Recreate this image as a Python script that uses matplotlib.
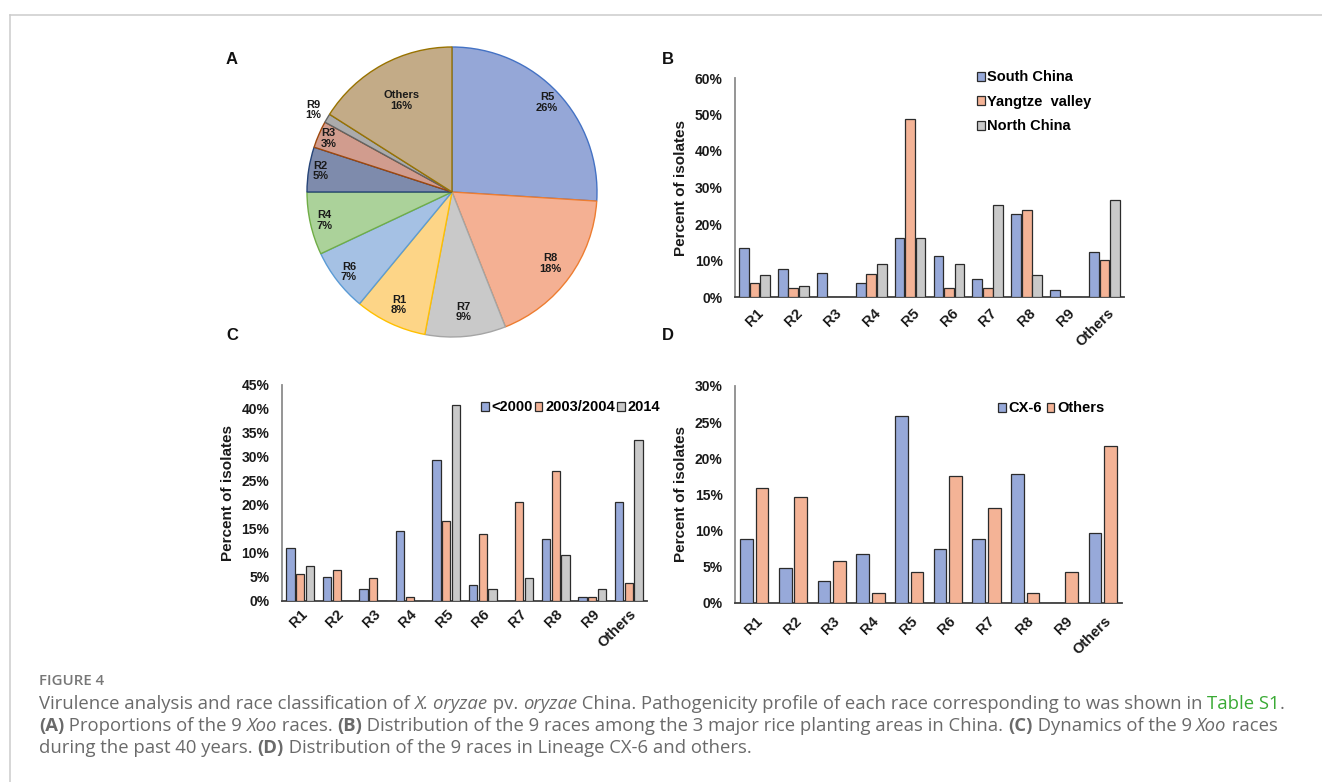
import matplotlib
matplotlib.use('Agg')
import matplotlib.pyplot as plt
from matplotlib.lines import Line2D
import numpy as np

plt.rcParams['font.family'] = ['Liberation Sans', 'DejaVu Sans']

# ---- data ----
races = ['R1', 'R2', 'R3', 'R4', 'R5', 'R6', 'R7', 'R8', 'R9', 'Others']

# A: proportions of the races (pie, clockwise from top)
pie_labels = ['R5', 'R8', 'R7', 'R1', 'R6', 'R4', 'R2', 'R3', 'R9', 'Others']
pie_shares = [26, 18, 9, 8, 7, 7, 5, 3, 1, 16]

# B: rice planting areas
south_china = [13.3, 7.6, 6.7, 3.8, 16.1, 11.3, 4.8, 22.8, 1.9, 12.4]
yangtze_valley = [3.7, 2.6, 0, 6.3, 48.9, 2.6, 2.6, 23.9, 0, 10.1]
north_china = [5.9, 3.0, 0, 9.0, 16.3, 9.0, 25.2, 5.9, 0, 26.5]
area_names = ['South China', 'Yangtze  valley', 'North China']

# C: periods
before_2000 = [11.1, 5.1, 2.6, 14.6, 29.3, 3.4, 0, 12.9, 0.8, 20.7]
y2003_2004 = [5.6, 6.5, 4.7, 0.9, 16.7, 14.0, 20.6, 27.1, 0.8, 3.8]
y2014 = [7.2, 0, 0, 0, 40.8, 2.4, 4.8, 9.6, 2.4, 33.6]
period_names = ['<2000', '2003/2004', '2014']

# D: lineages
cx6 = [8.9, 4.8, 3.0, 6.75, 25.8, 7.4, 8.9, 17.9, 0, 9.7]
other_lineages = [15.9, 14.6, 5.8, 1.4, 4.3, 17.5, 13.1, 1.4, 4.3, 21.7]
lineage_names = ['CX-6', 'Others']

# ---- styling ----
pie_fill = ['#95A7D7', '#F4B093', '#C9C9C9', '#FDD587', '#A5C1E4',
            '#ABD29A', '#7E8BAC', '#D19C8E', '#ABABAB', '#C3AB87']
pie_edge = ['#4472C4', '#ED7D31', '#A5A5A5', '#FFC000', '#5B9BD5',
            '#70AD47', '#264478', '#9E480E', '#636363', '#997300']
label_r = [0.9, 0.84, 0.83, 0.86, 0.9, 0.9, 0.92, 0.93, 1.11, 0.72]

BLUE, ORANGE, GREY = '#97A9D9', '#F4B396', '#C9C9C9'

W, H = 1322, 782
fig = plt.figure(figsize=(W / 100, H / 100), dpi=100)
renderer = fig.canvas.get_renderer()


def px_axes(x0, y0, x1, y1):
    return fig.add_axes([x0 / W, 1 - y1 / H, (x1 - x0) / W, (y1 - y0) / H])


# ---- A: pie ----
cx, cy, r = 452, 192, 145
ax_a = px_axes(cx - r, cy - r, cx + r, cy + r)
wedges, _ = ax_a.pie(pie_shares, startangle=90, counterclock=False,
                     colors=pie_fill, radius=1,
                     wedgeprops=dict(linewidth=1.0, clip_on=False))
for w, ec, lab, share, lr in zip(wedges, pie_edge, pie_labels, pie_shares, label_r):
    w.set_edgecolor(ec)
    ang = np.deg2rad((w.theta1 + w.theta2) / 2)
    ax_a.text(lr * np.cos(ang), lr * np.sin(ang), f'{lab}\n{share}%',
              ha='center', va='center', fontsize=8, fontweight='bold',
              color='#1a1a1a', linespacing=1.05)
ax_a.set_xlim(-1, 1)
ax_a.set_ylim(-1, 1)


# ---- bar panels ----
def bar_panel(ax, series, names, colors, width, step, ymax, ystep, tick_dx, tick_pad):
    x = np.arange(len(races))
    n = len(series)
    for i, (vals, name, col) in enumerate(zip(series, names, colors)):
        off = (i - (n - 1) / 2) * step
        ax.bar(x + off, vals, width, color=col, edgecolor='#2b2b2b',
               linewidth=0.9, label=name, zorder=3)
    ax.set_xlim(-0.5, len(races) - 0.5)
    ax.set_ylim(0, ymax)
    ticks = np.arange(0, ymax + 0.01, ystep)
    ax.set_yticks(ticks)
    ax.set_yticklabels([f'{int(t)}%' for t in ticks], fontsize=10, fontweight='bold')
    ax.set_xticks(x)
    ax.set_xticklabels(races, rotation=45, ha='right', va='top',
                       rotation_mode='anchor', fontsize=10.5, fontweight='bold')
    ax.tick_params(axis='y', length=0, pad=9, colors='#1a1a1a')
    ax.tick_params(axis='x', length=0, pad=tick_pad, colors='#1a1a1a')
    for lab in ax.get_xticklabels():
        lab.set_transform(lab.get_transform() +
                          matplotlib.transforms.Affine2D().translate(tick_dx, 0))
    for s in ['top', 'right']:
        ax.spines[s].set_visible(False)
    ax.spines['left'].set_color('#8c8c8c')
    ax.spines['left'].set_linewidth(1.3)
    ax.spines['bottom'].set_color('#404040')
    ax.spines['bottom'].set_linewidth(1.3)
    ax.set_ylabel('Percent of isolates', fontsize=11, fontweight='bold',
                  color='#1a1a1a', labelpad=5)
    ax.patch.set_alpha(0)


LEG = dict(bbox_transform=fig.transFigure, frameon=False, borderpad=0,
           handlelength=0.5, handleheight=0.6, handletextpad=0.2,
           prop=dict(weight='bold', size=10.5))

ax_b = px_axes(735, 78, 1124, 297)
bar_panel(ax_b, [south_china, yangtze_valley, north_china], area_names,
          [BLUE, ORANGE, GREY], 0.25, 0.27, 60, 10, 2, 6.5)
ax_b.legend(loc='upper left', bbox_to_anchor=(970 / W, 1 - 63 / H),
            labelspacing=0.72, **LEG)

ax_c = px_axes(282, 385, 647, 601)
bar_panel(ax_c, [before_2000, y2003_2004, y2014], period_names,
          [BLUE, ORANGE, GREY], 0.23, 0.265, 45, 5, 0, 4.5)
ax_c.legend(loc='upper left', bbox_to_anchor=(474 / W, 1 - 393 / H),
            ncol=3, columnspacing=0.15, **LEG)

ax_d = px_axes(735, 386, 1122, 603)
bar_panel(ax_d, [cx6, other_lineages], lineage_names,
          [BLUE, ORANGE], 0.33, 0.4, 30, 5, 1, 8)
ax_d.legend(loc='upper left', bbox_to_anchor=(991 / W, 1 - 394 / H),
            ncol=2, columnspacing=0.35, **LEG)

# panel letters
for letter, (lx, ly) in zip('ABCD', [(232, 60), (668, 60), (232, 335), (668, 335)]):
    fig.text(lx / W, 1 - ly / H, letter, ha='center', va='center',
             fontsize=12, fontweight='bold', color='#111111')

# frame lines
fig.add_artist(Line2D([9.5 / W, 1], [1 - 14.5 / H] * 2, transform=fig.transFigure,
                      color='#cccccc', linewidth=1.1))
fig.add_artist(Line2D([9.5 / W] * 2, [1 - 14.5 / H, 0], transform=fig.transFigure,
                      color='#cccccc', linewidth=1.1))

# ---- caption ----
CAP = dict(family=['Open Sans', 'DejaVu Sans'], fontsize=13.3, color='#6a6a6a')


def text_w(s, kw):
    t1 = fig.text(0, 0, '|' + s + '|', **kw)
    t0 = fig.text(0, 0, '||', **kw)
    w = t1.get_window_extent(renderer).width - t0.get_window_extent(renderer).width
    t1.remove()
    t0.remove()
    return w


def rich_line(x, y, parts):
    for s, extra in parts:
        kw = dict(CAP)
        kw.update(extra)
        fig.text(x / W, 1 - y / H, s, ha='left', va='baseline', **kw)
        x += text_w(s, kw)


IT = dict(style='italic')
BD = dict(weight='bold')
fig.text(39 / W, 1 - 685 / H, 'FIGURE 4', ha='left', va='baseline',
         family=['Open Sans', 'DejaVu Sans'], fontsize=10.8, weight='semibold',
         color='#777777')
rich_line(39, 709, [
    ('Virulence analysis and race classification of ', {}), ('X. oryzae', IT),
    (' pv. ', {}), ('oryzae', IT),
    (' China. Pathogenicity profile of each race corresponding to was shown in ', {}),
    ('Table S1', dict(color='#3aaa35')), ('.', {})])
rich_line(39, 731, [
    ('(A)', BD), (' Proportions of the 9 ', {}), ('Xoo', IT), (' races. ', {}),
    ('(B)', BD),
    (' Distribution of the 9 races among the 3 major rice planting areas in China. ', {}),
    ('(C)', BD), (' Dynamics of the 9 ', {}), ('Xoo', IT), (' races', {})])
rich_line(39, 753, [
    ('during the past 40 years. ', {}), ('(D)', BD),
    (' Distribution of the 9 races in Lineage CX-6 and others.', {})])

fig.savefig('out.png', dpi=100, facecolor='white')
